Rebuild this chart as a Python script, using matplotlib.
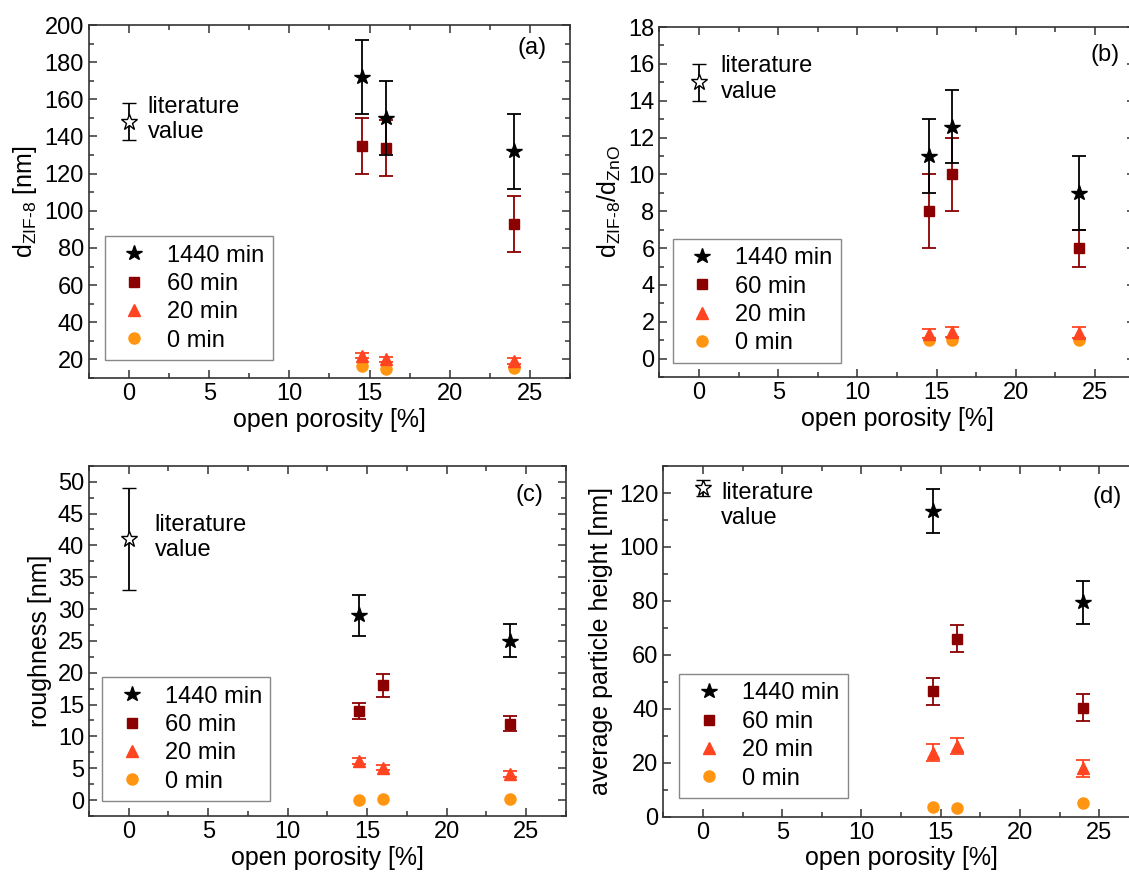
import numpy as np
import matplotlib
matplotlib.use("Agg")
import matplotlib.pyplot as plt
from matplotlib.ticker import MultipleLocator

plt.rcParams["font.family"] = ["Liberation Sans", "DejaVu Sans"]
plt.rcParams["mathtext.fontset"] = "custom"
plt.rcParams["mathtext.rm"] = "Liberation Sans"
plt.rcParams["mathtext.it"] = "Liberation Sans"

porosity = [14.5, 16, 24]
labels = ["1440 min", "60 min", "20 min", "0 min"]

# (a) d_ZIF-8 [nm]
a_1440 = [172, 150, 132]
a_1440_err = [20, 20, 20]
a_60 = [135, 134, 93]
a_60_err = [15, 15, 15]
a_20 = [22, 20, 19]
a_20_err = [1.5, 1.5, 1.5]
a_0 = [16.5, 15, 15.5]
a_lit, a_lit_err = 148, 10

# (b) d_ZIF-8 / d_ZnO
b_1440 = [11, 12.6, 9]
b_1440_err = [2, 2, 2]
b_60 = [8, 10, 6]
b_60_err = [2, 2, 1]
b_20 = [1.35, 1.45, 1.4]
b_20_err = [0.25, 0.25, 0.3]
b_0 = [1.0, 1.0, 1.0]
b_lit, b_lit_err = 15, 1

# (c) roughness [nm]
c_1440 = [29, np.nan, 25]
c_1440_err = [3.2, 0, 2.6]
c_60 = [14, 18, 12]
c_60_err = [1.3, 1.8, 1.2]
c_20 = [6.1, 5.1, 4.1]
c_20_err = [0.5, 0.4, 0.4]
c_0 = [0.0, 0.2, 0.2]
c_lit, c_lit_err = 41, 8

# (d) average particle height [nm]
d_1440 = [113.3, np.nan, 79.5]
d_1440_err = [8, 0, 8]
d_60 = [46.5, 66, 40.4]
d_60_err = [5, 5, 5]
d_20 = [23.8, 26.3, 17.9]
d_20_err = [3, 3, 3]
d_0 = [3.7, 3.2, 5.2]
d_lit, d_lit_err = 122, 3

colors = ["black", "#8b0000", "#ff4422", "#ff9510"]
markers = ["*", "s", "^", "o"]
msizes = [11.5, 6.5, 8, 8]

fig = plt.figure(figsize=(11.29, 8.75), dpi=100)

panels = [
    # rect, series, errs, lit, ylim, ylabel, tag, tagpos, litpos, legpos, yticks, minor
    ([0.0788, 0.568, 0.426, 0.4034], [a_1440, a_60, a_20, a_0],
     [a_1440_err, a_60_err, a_20_err, None], (a_lit, a_lit_err),
     (10, 200), r"d$_{\mathrm{ZIF\text{-}8}}$ [nm]", "(a)",
     (0.952, 0.934), (1.17, 149), (0.033, 0.051), np.arange(20, 201, 20), 10),
    ([0.5841, 0.5691, 0.4209, 0.4], [b_1440, b_60, b_20, b_0],
     [b_1440_err, b_60_err, b_20_err, None], (b_lit, b_lit_err),
     (-1, 18), r"d$_{\mathrm{ZIF\text{-}8}}$/d$_{\mathrm{ZnO}}$", "(b)",
     (0.969, 0.92), (1.35, 15.17), (0.028, 0.041), np.arange(0, 19, 2), 1),
    ([0.0788, 0.0674, 0.4225, 0.4003], [c_1440, c_60, c_20, c_0],
     [c_1440_err, c_60_err, c_20_err, None], (c_lit, c_lit_err),
     (-2.5, 52.5), "roughness [nm]", "(c)",
     (0.952, 0.916), (1.64, 41.2), (0.028, 0.043), np.arange(0, 51, 5), 2.5),
    ([0.5875, 0.0666, 0.4213, 0.4008], [d_1440, d_60, d_20, d_0],
     [d_1440_err, d_60_err, d_20_err, None], (d_lit, d_lit_err),
     (0, 130), "average particle height [nm]", "(d)",
     (0.964, 0.912), (1.16, 115.3), (0.034, 0.054), np.arange(0, 121, 20), 10),
]

for rect, series, errs, lit, ylim, ylabel, tag, tagpos, litpos, legpos, yticks, minor in panels:
    ax = fig.add_axes(rect)
    handles = []
    # draw from 0 min up so 1440 min sits on top
    for i in [3, 2, 1, 0]:
        if errs[i] is not None:
            ax.errorbar(porosity, series[i], yerr=errs[i], fmt="none",
                        ecolor=colors[i], elinewidth=1.3, capsize=5,
                        capthick=1.3, zorder=2 + (3 - i))
        h, = ax.plot(porosity, series[i], linestyle="none", marker=markers[i],
                     color=colors[i], markersize=msizes[i], label=labels[i],
                     zorder=3 + (3 - i))
        handles.insert(0, h)
    ax.errorbar([0], [lit[0]], yerr=[lit[1]], fmt="*", color="black",
                markerfacecolor="white", markeredgecolor="black",
                markersize=12, markeredgewidth=1.0, elinewidth=1.3,
                capsize=5, capthick=1.3)
    ax.text(litpos[0], litpos[1], "literature\nvalue", fontsize=17,
            ha="left", va="center")
    ax.text(tagpos[0], tagpos[1], tag, transform=ax.transAxes, fontsize=17,
            ha="right", va="center")

    ax.set_xlim(-2.5, 27.5)
    ax.set_ylim(*ylim)
    ax.xaxis.set_major_locator(MultipleLocator(5))
    ax.xaxis.set_minor_locator(MultipleLocator(2.5))
    ax.set_yticks(yticks)
    ax.yaxis.set_minor_locator(MultipleLocator(minor))
    ax.tick_params(which="both", direction="in", top=True, right=True,
                   labelsize=17, width=1.1, color="#333333")
    ax.tick_params(which="major", length=6)
    ax.tick_params(which="minor", length=3.5)
    for sp in ax.spines.values():
        sp.set_linewidth(1.2)
        sp.set_color("#333333")
    ax.set_xlabel("open porosity [%]", fontsize=18, labelpad=2)
    ax.set_ylabel(ylabel, fontsize=18, labelpad=4)
    leg = ax.legend(handles=handles, loc="lower left", bbox_to_anchor=legpos,
                    borderaxespad=0, fontsize=17, frameon=True,
                    fancybox=False, framealpha=1, handlelength=1.8,
                    handletextpad=0.5, labelspacing=0.27, borderpad=0.35)
    leg.get_frame().set_edgecolor("#888888")
    leg.get_frame().set_linewidth(1.0)

plt.savefig("out.png", dpi=100)
plt.close()
